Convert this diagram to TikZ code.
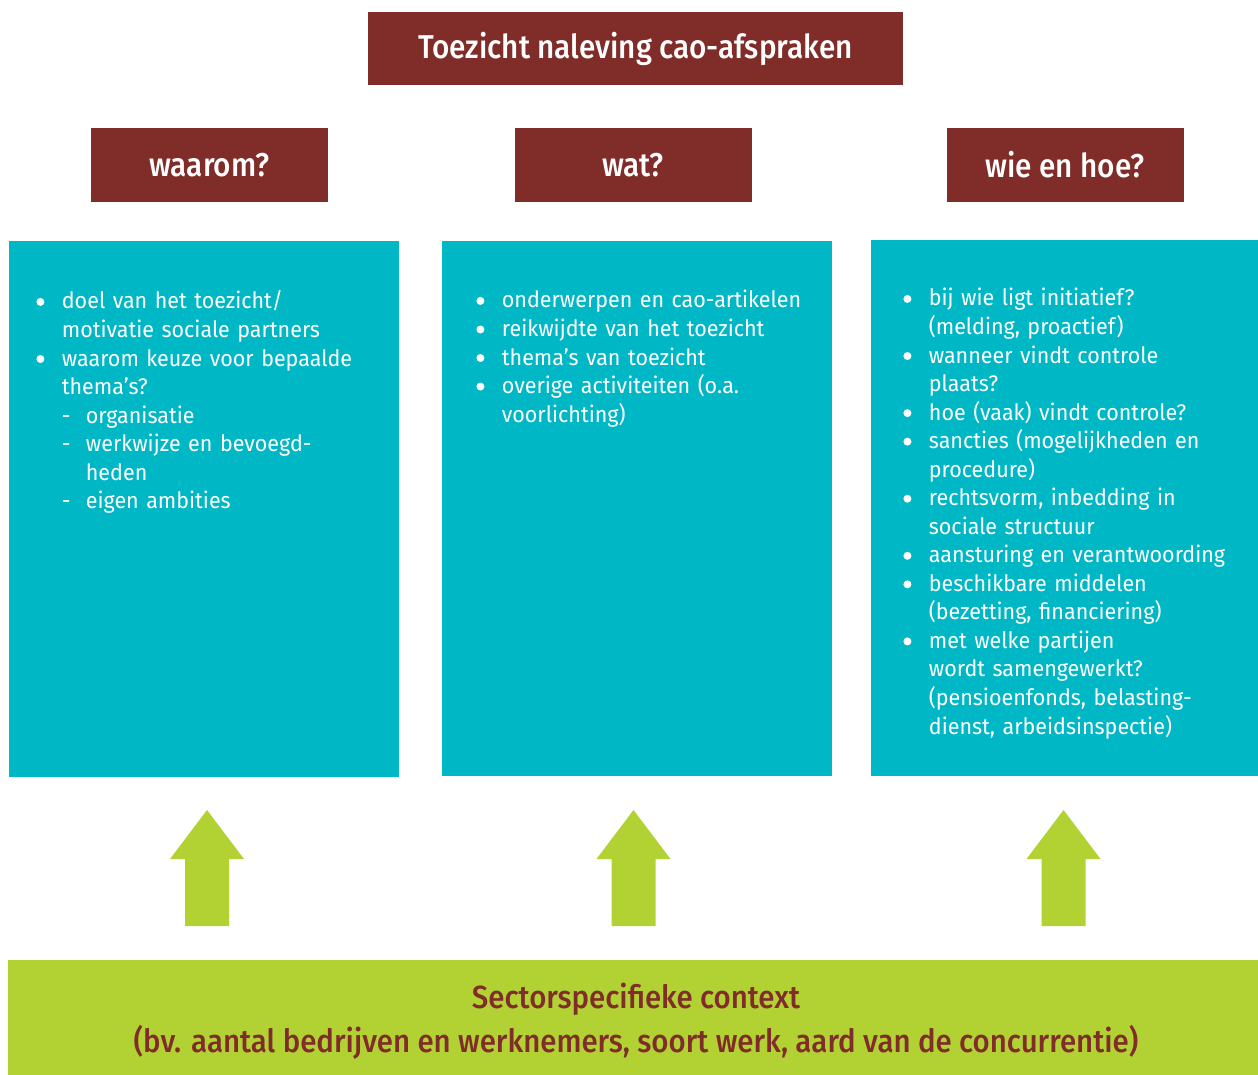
\documentclass[tikz,border=0pt]{standalone}
\usepackage{fontspec}
\setmainfont{Fira Sans}[FakeStretch=0.955]
\newfontfamily\medium{Fira Sans Medium}[FakeStretch=0.9]
\newfontfamily\contextfont{Fira Sans Medium}[FakeStretch=0.92]
\usepackage{enumitem}
\definecolor{bruin}{HTML}{802D2A}
\definecolor{blauw}{HTML}{00B7C6}
\definecolor{groen}{HTML}{B2D234}
\def\stip{\tikz[baseline=-3.5pt]\fill[white] (0,0) circle (2pt);}
\setlist[itemize,1]{label=\stip,leftmargin=12.75pt,labelindent=0pt,labelwidth=12.75pt,labelsep=0pt,align=left,itemsep=0pt,parsep=0pt,topsep=0pt,partopsep=0pt}
\setlist[itemize,2]{label=-,leftmargin=12pt,labelindent=0pt,labelwidth=12pt,labelsep=0pt,align=left,itemsep=0pt,parsep=0pt,topsep=0pt,partopsep=0pt}
\def\pijl#1{
	\fill[groen]
		({#1-22},926) -- ({#1-22},859) -- ({#1-37},859) -- (#1,810)
		-- ({#1+37},859) -- ({#1+22},859) -- ({#1+22},926) -- cycle;
}

\begin{document}
\begin{tikzpicture}[x=0.5pt,y=-0.5pt,
	titel/.style={fill=bruin,text=white,inner sep=0pt,font=\medium\fontsize{16.5pt}{20pt}\selectfont},
	kop/.style={titel,minimum width=118.5pt,minimum height=37pt},
	vak/.style={fill=blauw,inner sep=0pt,minimum height=267.5pt},
	lijst/.style={anchor=north west,inner sep=0pt,text=white,text width=185pt,align=left,font=\fontsize{11.25pt}{14.27pt}\selectfont},
	context/.style={fill=groen,inner sep=0pt,minimum width=625pt,minimum height=57.5pt},
	contexttekst/.style={text=bruin,inner sep=0pt,align=center,font=\contextfont\fontsize{16pt}{21.5pt}\selectfont}]
\path[use as bounding box] (0,0) rectangle (1258,1075);
% titel en kopjes
\node[titel,minimum width=267.5pt,minimum height=36.5pt] (titel) at (635.5,48.5) {Toezicht naleving cao-afspraken};
\node[kop] (waarom) at (209.5,165) {waarom?};
\node[kop] (wat) at (633,165) {wat?};
\node[kop] (wie) at (1065,165) {wie en hoe?};
% blauwe vakken
\node[vak,minimum width=195pt] (vak1) at (204,509) {};
\node[vak,minimum width=195pt] (vak2) at (637,508.5) {};
\node[vak,minimum width=193.5pt] (vak3) at (1064.5,508) {};
\node[lijst] (lijst1) at (36,280) {%
\begin{itemize}
	\item doel van het toezicht/\newline motivatie sociale partners
	\item waarom keuze voor bepaalde\newline thema's?
	\begin{itemize}
		\item organisatie
		\item werkwijze en bevoegd-\newline heden
		\item eigen ambities
	\end{itemize}
\end{itemize}};
\node[lijst] (lijst2) at (476,279) {%
\begin{itemize}
	\item onderwerpen en cao-artikelen
	\item reikwijdte van het toezicht
	\item thema's van toezicht
	\item overige activiteiten (o.a.\newline voorlichting)
\end{itemize}};
\node[lijst] (lijst3) at (903,277) {%
\begin{itemize}
	\item bij wie ligt initiatief?\newline (melding, proactief)
	\item wanneer vindt controle\newline plaats?
	\item hoe (vaak) vindt controle?
	\item sancties (mogelijkheden en\newline procedure)
	\item rechtsvorm, inbedding in\newline sociale structuur
	\item aansturing en verantwoording
	\item beschikbare middelen\newline (bezetting, financiering)
	\item met welke partijen\newline wordt samengewerkt?\newline (pensioenfonds, belasting-\newline dienst, arbeidsinspectie)
\end{itemize}};
% pijlen
\pijl{207}
\pijl{633.5}
\pijl{1063.5}
% context
\node[context] (context) at (633,1017.5) {};
\node[contexttekst] (contexttekst) at (636,1021.5) {Sectorspecifieke context\\[0.6pt](bv. aantal bedrijven en werknemers, soort werk, aard van de concurrentie)};
\end{tikzpicture}
\end{document}
